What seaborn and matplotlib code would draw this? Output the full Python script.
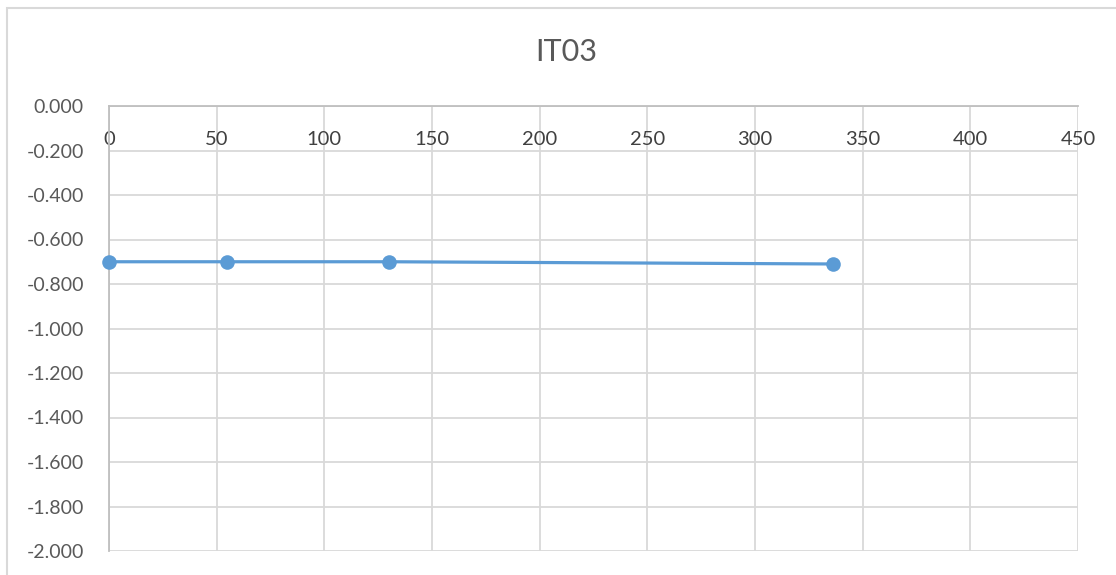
import matplotlib
matplotlib.use("Agg")
import matplotlib.pyplot as plt
from matplotlib.patches import Rectangle
import numpy as np
import pandas as pd
import seaborn as sns

# Time (x) and measured level (y) for station IT03
time_values = [0, 55, 130, 336]
level_values = [-0.700, -0.700, -0.700, -0.710]

x_ticks = [0, 50, 100, 150, 200, 250, 300, 350, 400, 450]
y_ticks = [0.0, -0.2, -0.4, -0.6, -0.8, -1.0, -1.2, -1.4, -1.6, -1.8, -2.0]
title_text = "IT03"

df = pd.DataFrame({"time": time_values, "level": level_values})

sns.set_theme(style="white")
plt.rcParams["font.family"] = ["Lato", "DejaVu Sans"]

W, H = 1116, 575
fig = plt.figure(figsize=(W / 100, H / 100), dpi=100)
fig.patch.set_facecolor("white")

# plot area in pixel coordinates
left, right, top, bottom = 109, 1078, 106, 551
ax = fig.add_axes([left / W, 1 - bottom / H, (right - left) / W, (bottom - top) / H])

sns.lineplot(data=df, x="time", y="level", ax=ax, color="#5B9BD5",
             linewidth=2.3, marker="o", markersize=10.5,
             markeredgecolor="#5B9BD5", markeredgewidth=0, clip_on=False,
             zorder=5)

ax.set_xlim(0, 450)
ax.set_ylim(-2.0, 0.0)
ax.set_xticks(x_ticks)
ax.set_yticks(y_ticks)
ax.set_xticklabels([str(v) for v in x_ticks])
ax.set_yticklabels([f"{v:.3f}" if v != 0 else "0.000" for v in y_ticks])

ax.grid(True, color="#D9D9D9", linewidth=1.3)
ax.set_axisbelow(True)
ax.set_xlabel("")
ax.set_ylabel("")

for side in ["right", "bottom"]:
    ax.spines[side].set_visible(False)
for side in ["top", "left"]:
    ax.spines[side].set_visible(True)
    ax.spines[side].set_color("#BFBFBF")
    ax.spines[side].set_linewidth(1.3)

# horizontal axis crosses at zero, its labels sit just below the axis line
ax.tick_params(axis="x", top=True, labeltop=True, bottom=False, labelbottom=False,
               length=0, pad=-30, labelsize=14.5, labelcolor="#404040")
ax.tick_params(axis="y", left=False, length=0, pad=18, labelsize=14,
               labelcolor="#595959")

# chart frame border
fig.patches.append(Rectangle((7 / W, -0.1), 1.2, 1 - 8 / H + 0.1,
                             transform=fig.transFigure, fill=False,
                             edgecolor="#D9D9D9", linewidth=1.5, zorder=0))

fig.text(566 / W, 1 - 52 / H, title_text, ha="center", va="center",
         fontsize=22, color="#595959")

fig.savefig("out.png", dpi=100, facecolor="white")
